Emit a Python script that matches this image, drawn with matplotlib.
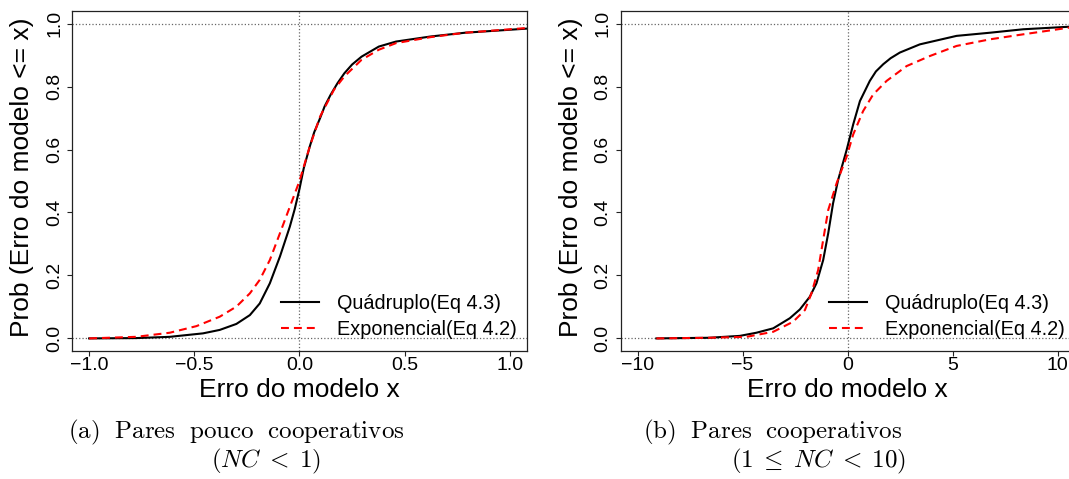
import matplotlib.pyplot as plt

plt.rcParams['font.family'] = ['Liberation Sans', 'DejaVu Sans']
plt.rcParams['mathtext.fontset'] = 'cm'

# Curvas acumuladas - pares pouco cooperativos (NC < 1)
x_quad_a = [-1.0, -0.776, -0.617, -0.459, -0.379, -0.3, -0.236, -0.189, -0.141, -0.093,
            -0.046, -0.023, 0.0, 0.02, 0.049, 0.07, 0.098, 0.12, 0.148, 0.18, 0.213, 0.25,
            0.295, 0.377, 0.459, 0.623, 0.787, 1.08]
y_quad_a = [0.0, 0.001, 0.005, 0.016, 0.027, 0.046, 0.074, 0.111, 0.175, 0.26,
            0.355, 0.41, 0.475, 0.54, 0.61, 0.655, 0.70, 0.738, 0.774, 0.81, 0.842, 0.87,
            0.895, 0.927, 0.943, 0.959, 0.971, 0.984]
x_exp_a = [-1.0, -0.776, -0.617, -0.49, -0.379, -0.3, -0.236, -0.189, -0.141, -0.093,
           -0.046, 0.0, 0.049, 0.098, 0.164, 0.213, 0.295, 0.377, 0.459, 0.623, 0.787, 1.08]
y_exp_a = [0.0, 0.005, 0.018, 0.039, 0.069, 0.101, 0.143, 0.186, 0.249, 0.334,
           0.418, 0.50, 0.61, 0.705, 0.79, 0.832, 0.885, 0.917, 0.938, 0.957, 0.971, 0.986]

# Curvas acumuladas - pares cooperativos (1 <= NC < 10)
x_quad_b = [-9.1, -6.6, -5.13, -4.34, -3.54, -2.75, -2.27, -1.8, -1.48, -1.16, -0.92,
            -0.69, -0.45, -0.05, 0.27, 0.59, 1.06, 1.35, 1.7, 2.05, 2.49, 3.44, 5.19, 6.78,
            8.37, 10.54, 10.8]
y_quad_b = [0.0, 0.002, 0.008, 0.018, 0.032, 0.064, 0.092, 0.132, 0.175, 0.249, 0.334,
            0.429, 0.503, 0.597, 0.68, 0.754, 0.818, 0.848, 0.871, 0.89, 0.908, 0.934, 0.961,
            0.971, 0.982, 0.99, 0.991]
x_exp_b = [-9.1, -6.6, -4.81, -3.54, -2.59, -2.03, -1.72, -1.4, -1.16, -0.92, -0.52,
           -0.05, 0.27, 0.74, 1.22, 1.86, 2.81, 3.92, 5.19, 6.78, 8.37, 10.54, 10.8]
y_exp_b = [0.0, 0.002, 0.005, 0.021, 0.053, 0.09, 0.143, 0.217, 0.313, 0.408, 0.493,
           0.576, 0.648, 0.722, 0.775, 0.818, 0.865, 0.897, 0.929, 0.95, 0.966, 0.987, 0.988]

paineis = [
    dict(xq=x_quad_a, yq=y_quad_a, xe=x_exp_a, ye=y_exp_a, xlim=(-1.08, 1.08),
         xticks=[-1.0, -0.5, 0.0, 0.5, 1.0], xfmt='{:.1f}',
         pos=[72.3 / 1069, 1 - 351 / 479, 454.4 / 1069, 340 / 479]),
    dict(xq=x_quad_b, yq=y_quad_b, xe=x_exp_b, ye=y_exp_b, xlim=(-10.8, 10.8),
         xticks=[-10, -5, 0, 5, 10], xfmt='{:d}',
         pos=[620.7 / 1069, 1 - 351 / 479, 453.7 / 1069, 340 / 479]),
]

fig = plt.figure(figsize=(10.69, 4.79), dpi=100)

for p in paineis:
    ax = fig.add_axes(p['pos'])
    for nivel in (0, 1):
        ax.axhline(nivel, color='#666666', linestyle=':', linewidth=0.9)
    ax.axvline(0, color='#666666', linestyle=':', linewidth=0.9)
    ax.plot(p['xq'], p['yq'], color='black', linewidth=1.5, label='Quádruplo(Eq 4.3)')
    ax.plot(p['xe'], p['ye'], color='red', linewidth=1.5, linestyle=(0, (3.8, 2.4)),
            label='Exponencial(Eq 4.2)')
    ax.set_xlim(p['xlim'])
    ax.set_ylim(-0.04, 1.04)
    ax.set_xticks(p['xticks'])
    ax.set_xticklabels([p['xfmt'].format(t).replace('-', '\u2212') for t in p['xticks']])
    ax.set_yticks([0, 0.2, 0.4, 0.6, 0.8, 1.0])
    ax.set_yticklabels(['0.0', '0.2', '0.4', '0.6', '0.8', '1.0'], rotation=90, va='center')
    ax.tick_params(labelsize=14, length=3.6, width=0.8, color='#222222')
    ax.tick_params(axis='x', pad=1)
    ax.tick_params(axis='y', pad=3)
    for s in ax.spines.values():
        s.set_linewidth(0.9)
        s.set_color('#222222')
    ax.set_xlabel('Erro do modelo x', fontsize=19)
    ax.set_ylabel('Prob (Erro do modelo <= x)', fontsize=19)
    ax.xaxis.set_label_coords(0.5, -0.1147)
    ax.xaxis.label.set_va('center')
    ax.yaxis.set_label_coords(-0.11, 0.51)
    ax.yaxis.label.set_va('center')
    ax.legend(loc='lower right', bbox_to_anchor=(0.978, 0.036), frameon=False,
              fontsize=14.3, handlelength=1.9, handletextpad=0.9, labelspacing=0.35,
              borderpad=0, borderaxespad=0)

# legendas das subfiguras
fig.text(236.7 / 1069, 1 - 432 / 479, r'$\mathrm{(a)\ \ Pares\ \ pouco\ \ cooperativos}$',
         ha='center', va='center', fontsize=18)
fig.text(266 / 1069, 1 - 461 / 479, r'$(NC\; <\; 1)$', ha='center', va='center',
         fontsize=18)
fig.text(773 / 1069, 1 - 432 / 479, r'$\mathrm{(b)\ \ Pares\ \ cooperativos}$',
         ha='center', va='center', fontsize=18)
fig.text(819 / 1069, 1 - 461 / 479, r'$(1\; \leq\; NC\; <\; 10)$', ha='center',
         va='center', fontsize=18)

fig.savefig('out.png', dpi=100)
